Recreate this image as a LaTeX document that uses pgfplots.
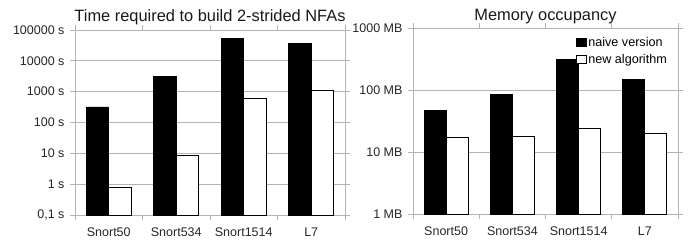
\documentclass[border=0pt]{standalone}
\usepackage{pgfplots}
\pgfplotsset{compat=1.18}
\usepackage{fontspec}
\setmainfont{Liberation Sans}
\definecolor{axgray}{RGB}{180,180,180}
\begin{document}
\begin{tikzpicture}
\path[use as bounding box] (0pt,0pt) rectangle (695pt,242pt);
\begin{axis}[
  scale only axis,
  ymode=log,
  log origin=infty,
  ybar=0pt,
  bar width=22.5pt,
  xmin=-0.5, xmax=3.5,
  axis line style={draw=axgray, line width=0.8pt},
  ymajorgrids,
  major grid style={draw=axgray, line width=0.8pt},
  yminorticks=false,
  tick align=outside,
  major tick length=5pt,
  tick style={draw=axgray, line width=0.8pt},
  xtick={-0.5,0.5,1.5,2.5,3.5},
  xticklabels={},
  extra x ticks={0,1,2,3},
  extra x tick labels={Snort50,Snort534,Snort1514,L7},
  extra x tick style={major tick length=0pt, xticklabel style={anchor=base, yshift=-21pt}},
  /pgf/number format/assume math mode=true,
  ticklabel style={font=\fontsize{12.5}{15}\selectfont, text=black!85},
  title style={font=\fontsize{16.4}{19}\selectfont, anchor=base, text=black!90, yshift=3pt},
  at={(75pt,27pt)}, anchor=south west,
  width=270pt, height=185pt,
  ymin=0.1, ymax=100000,
  ytick={0.1,1,10,100,1000,10000,100000},
  yticklabels={{0,1 s},{1 s},{10 s},{100 s},{1000 s},{10000 s},{100000 s}},
  yticklabel style={xshift=-2pt},
  title={Time required to build 2-strided NFAs},
]
\addplot[fill=black, draw=black, line width=0.8pt] coordinates {(0,320) (1,3100) (2,52000) (3,37000)};
\addplot[fill=white, draw=black, line width=0.8pt] coordinates {(0,0.78) (1,8.4) (2,600) (3,1100)};
\end{axis}
\begin{axis}[
  scale only axis,
  ymode=log,
  log origin=infty,
  ybar=0pt,
  bar width=22pt,
  xmin=-0.5, xmax=3.5,
  axis line style={draw=axgray, line width=0.8pt},
  ymajorgrids,
  major grid style={draw=axgray, line width=0.8pt},
  yminorticks=false,
  tick align=outside,
  major tick length=5pt,
  tick style={draw=axgray, line width=0.8pt},
  xtick={-0.5,0.5,1.5,2.5,3.5},
  xticklabels={},
  extra x ticks={0,1,2,3},
  extra x tick labels={Snort50,Snort534,Snort1514,L7},
  extra x tick style={major tick length=0pt, xticklabel style={anchor=base, yshift=-21pt}},
  /pgf/number format/assume math mode=true,
  ticklabel style={font=\fontsize{12.5}{15}\selectfont, text=black!85},
  title style={font=\fontsize{16.4}{19}\selectfont, anchor=base, text=black!90, yshift=1.3pt},
  at={(413pt,28pt)}, anchor=south west,
  width=265pt, height=186pt,
  ymin=1, ymax=1000,
  ytick={1,10,100,1000},
  yticklabels={{1 MB},{10 MB},{100 MB},{1000 MB}},
  yticklabel style={xshift=-2pt},
  title={Memory occupancy},
  legend image code/.code={\draw[#1] (0pt,-4.3pt) rectangle (9.5pt,4.3pt);},
  legend style={draw=none, fill=none, at={(0.966,0.962)}, anchor=north east,
    font=\fontsize{12.6}{14}\selectfont, inner sep=0pt, row sep=2pt},
  legend cell align=left,
]
\addplot[fill=black, draw=black, line width=0.8pt] coordinates {(0,47) (1,86) (2,315) (3,148)};
\addplot[fill=white, draw=black, line width=0.8pt] coordinates {(0,17) (1,18) (2,24) (3,20)};
\legend{naive version, new algorithm}
\end{axis}
\end{tikzpicture}
\end{document}
